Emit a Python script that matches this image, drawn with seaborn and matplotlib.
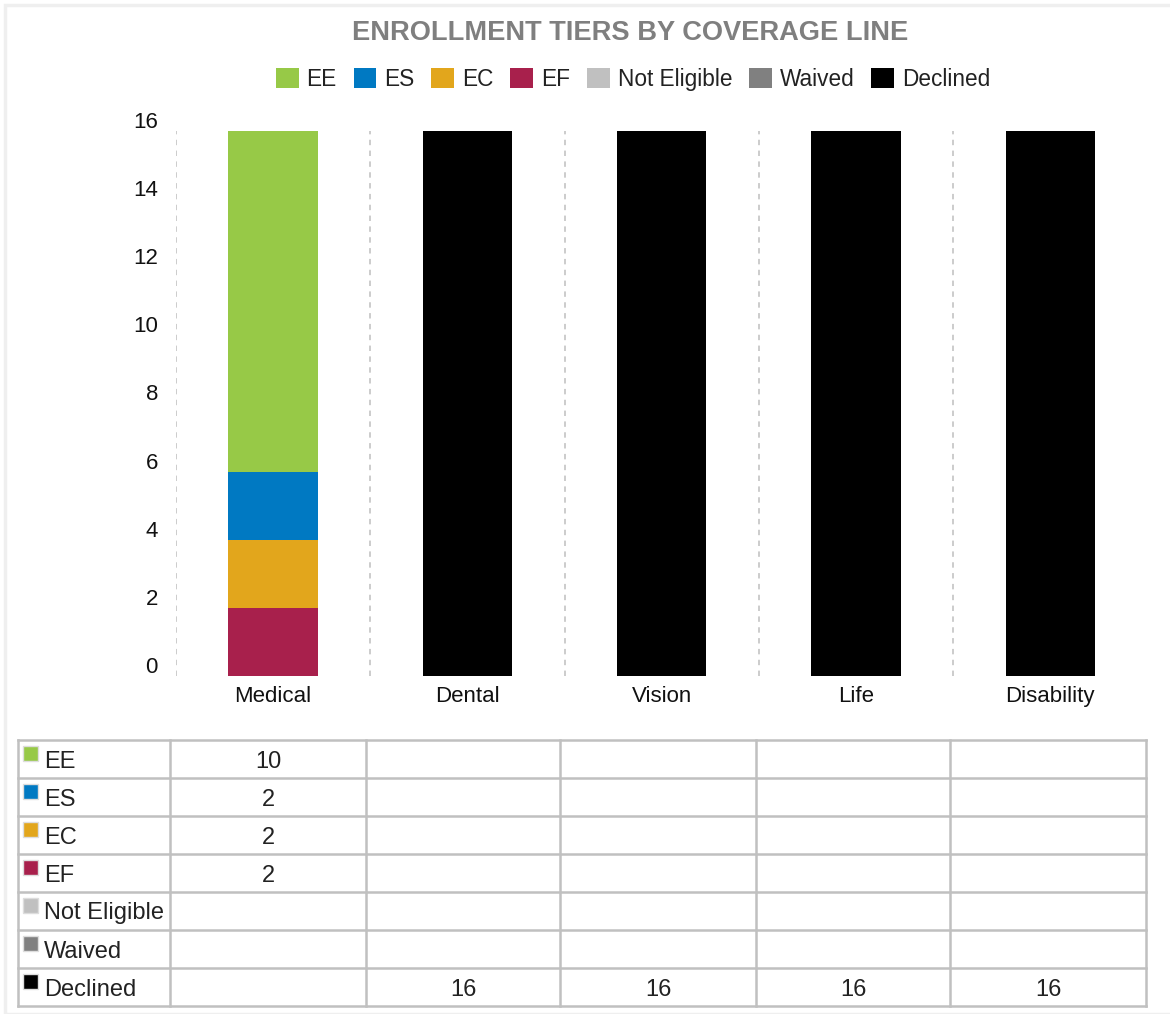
import matplotlib
matplotlib.use("Agg")
import matplotlib.pyplot as plt
import matplotlib.transforms as mtransforms
from matplotlib.patches import Patch, Rectangle
import numpy as np
import pandas as pd
import seaborn as sns

# ---- data -------------------------------------------------------------
lines = ["Medical", "Dental", "Vision", "Life", "Disability"]
tiers = ["EE", "ES", "EC", "EF", "Not Eligible", "Waived", "Declined"]
ee = [10, 0, 0, 0, 0]
es = [2, 0, 0, 0, 0]
ec = [2, 0, 0, 0, 0]
ef = [2, 0, 0, 0, 0]
not_eligible = [0, 0, 0, 0, 0]
waived = [0, 0, 0, 0, 0]
declined = [0, 16, 16, 16, 16]
y_ticks = [0, 2, 4, 6, 8, 10, 12, 14, 16]

tier_colors = {
    "EE": "#97c947",
    "ES": "#0079c2",
    "EC": "#e2a61c",
    "EF": "#a8204c",
    "Not Eligible": "#c0c0c0",
    "Waived": "#808080",
    "Declined": "#000000",
}

values = {
    "EE": ee, "ES": es, "EC": ec, "EF": ef,
    "Not Eligible": not_eligible, "Waived": waived, "Declined": declined,
}

# stacking order from the baseline upward
stack_order = ["EF", "EC", "ES", "EE", "Not Eligible", "Waived", "Declined"]

sns.set_theme(style="white")
plt.rcParams["font.family"] = ["Liberation Sans", "DejaVu Sans"]

fig = plt.figure(figsize=(11.70, 10.14), dpi=100)
W, H = 1170, 1014

# faint frame around the whole graphic
fig.patches.append(Rectangle((5 / W, 0), 1, 1 - 5 / H, transform=fig.transFigure,
                             fill=False, edgecolor="#efefef", lw=2.5))

ax = fig.add_axes([176 / W, (H - 676) / H, (1147.5 - 176) / W, (676 - 131) / H])

# cumulative heights; draw tallest layer first, lower layers on top
df = pd.DataFrame(values, index=lines)
cum = df[stack_order].cumsum(axis=1)
for tier in reversed(stack_order):
    plot_df = pd.DataFrame({"line": lines, "height": cum[tier].values})
    sns.barplot(data=plot_df, x="line", y="height", order=lines,
                color=tier_colors[tier], width=0.46, saturation=1,
                edgecolor="none", linewidth=0, ax=ax)

ax.set_xlim(-0.5, len(lines) - 0.5)
ax.set_ylim(0, 16)
ax.set_xlabel("")
ax.set_ylabel("")
for s in ax.spines.values():
    s.set_visible(False)

# dashed separators between coverage lines
for i in range(len(lines)):
    ax.axvline(i - 0.5, color="#c8c8c8", lw=1.3, ls=(0, (3, 3)), zorder=0)

ax.set_yticks(y_ticks)
ax.set_yticklabels([str(t) for t in y_ticks])
ax.tick_params(axis="y", length=0, pad=13, labelsize=16, labelcolor="#111111")
ax.tick_params(axis="x", length=0, pad=7, labelsize=16, labelcolor="#111111")
shift = mtransforms.ScaledTranslation(0, 11 / 100, fig.dpi_scale_trans)
for lab in ax.get_yticklabels():
    lab.set_transform(lab.get_transform() + shift)

# title and legend
fig.text(630 / W, 1 - 33 / H, "ENROLLMENT TIERS BY COVERAGE LINE",
         ha="center", va="center", fontsize=19.6, fontweight="bold",
         color="#7f7f7f", family=["Liberation Sans Narrow", "Liberation Sans"])

handles = [Patch(facecolor=tier_colors[t], edgecolor="none", label=t) for t in tiers]
fig.legend(handles=handles, loc="center", bbox_to_anchor=(633 / W, 1 - 79.5 / H),
           ncol=len(tiers), frameon=False, fontsize=16.3, handlelength=1.0,
           handleheight=1.0, handletextpad=0.35, columnspacing=0.75,
           labelcolor="#222222", borderpad=0)

# ---- data table -------------------------------------------------------
tax = fig.add_axes([0, 0, 1, 1])
tax.set_xlim(0, W)
tax.set_ylim(H, 0)
tax.axis("off")

col_edges = [18, 170, 366, 560, 756, 950, 1146]
row_top = 740
row_h = 38
n_rows = len(tiers)
grid_col = "#c0c0c0"

for y in range(n_rows + 1):
    yy = row_top + y * row_h
    tax.plot([col_edges[0], col_edges[-1]], [yy, yy], color=grid_col, lw=1.8,
             solid_capstyle="projecting")
for x in col_edges:
    tax.plot([x, x], [row_top, row_top + n_rows * row_h], color=grid_col, lw=1.8,
             solid_capstyle="projecting")

for r, tier in enumerate(tiers):
    top = row_top + r * row_h
    cy = top + row_h / 2
    tax.add_patch(Rectangle((23, top + 6), 15, 15, facecolor=tier_colors[tier],
                            edgecolor="#dddddd", lw=1.0))
    tax.text(44, cy + 2.5, tier, ha="left", va="center", fontsize=17,
             color="#222222")
    for c, v in enumerate(values[tier]):
        if v:
            cx = (col_edges[c + 1] + col_edges[c + 2]) / 2
            tax.text(cx, cy + 2.5, str(v), ha="center", va="center",
                     fontsize=17, color="#222222")

fig.savefig("out.png", dpi=100, facecolor="white")
